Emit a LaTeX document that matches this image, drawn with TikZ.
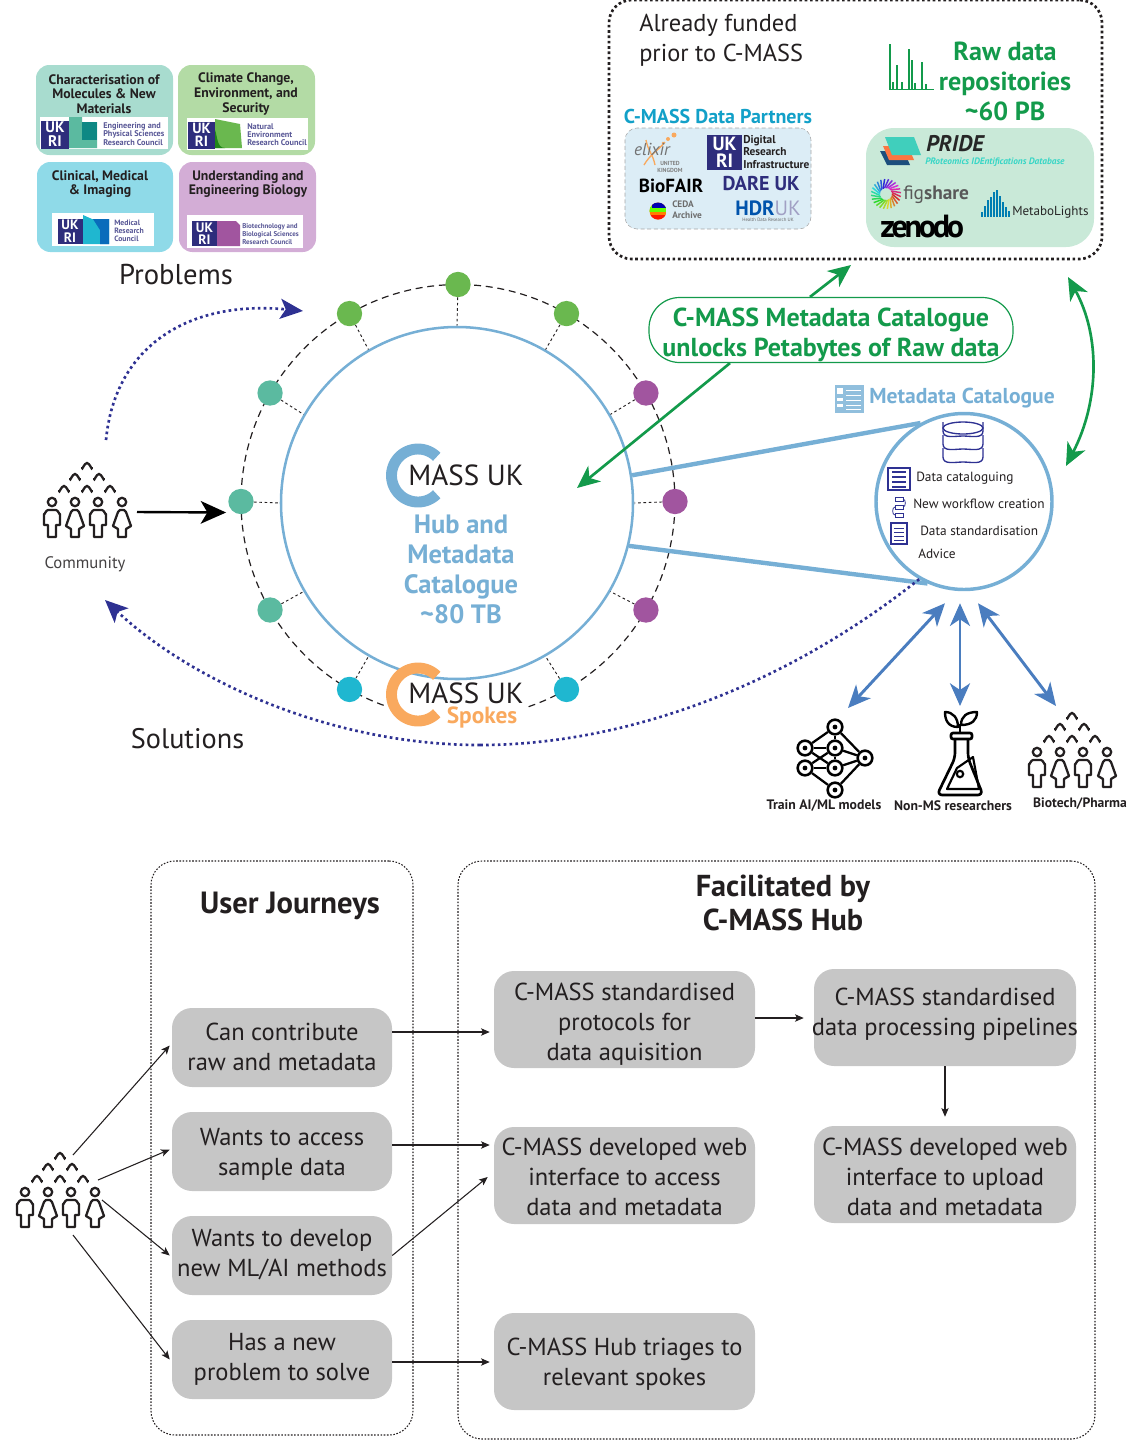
\documentclass[tikz,border=0pt]{standalone}
\usepackage{fontspec}
\setmainfont{PT Sans}
\usetikzlibrary{arrows.meta,calc,shapes.geometric}
\definecolor{ink}{HTML}{231F20}
\definecolor{hubblue}{HTML}{76AFD5}
\definecolor{spokeor}{HTML}{F9A95E}
\definecolor{cgreen}{HTML}{139A4B}
\definecolor{indigo}{HTML}{2E3192}
\definecolor{ukri}{HTML}{2E2D7C}
\definecolor{arrblue}{HTML}{4A7DBF}
\definecolor{pgreen}{HTML}{6AB84F}
\definecolor{ppurple}{HTML}{A1559F}
\definecolor{pcyan}{HTML}{1FB7D0}
\definecolor{pteal}{HTML}{5BBAA0}
\definecolor{pgray}{HTML}{C6C6C6}
\newcommand{\fs}[2]{\fontsize{#1}{#2}\selectfont}
\tikzset{
  x=0.75pt,y=-0.75pt,
  wh/.style 2 args={minimum width=#1*0.75pt,minimum height=#2*0.75pt,inner sep=0pt},
  txt/.style={inner sep=0pt,text=ink,align=center},
  ltxt/.style={inner sep=0pt,text=ink,align=left,anchor=west},
  area/.style={rounded corners=10pt,draw=none},
  coun/.style={ltxt,text=ukri!80!white,font=\bfseries\fs{6.2}{6.1}},
  ukrib/.style={fill=ukri,text=white,inner sep=0pt,align=center,minimum size=21pt,font=\bfseries\fs{11.5}{10.5}},
  graybox/.style={fill=pgray,rounded corners=15pt},
  gtext/.style={inner sep=0pt,text=ink,align=center,font=\fs{18.4}{22.5}},
  thinarr/.style={draw=ink,line width=0.8pt,-{Stealth[length=6.5pt,width=5.5pt,inset=1.5pt]}},
  bigdot/.style={circle,minimum size=19pt,inner sep=0pt},
  blu/.style={draw=arrblue,line width=2.2pt,{Stealth[length=17pt,width=15pt,inset=5pt]}-{Stealth[length=17pt,width=15pt,inset=5pt]}},
  grn/.style={draw=cgreen,line width=2pt,-{Stealth[length=17pt,width=15pt,inset=5pt]}},
  dots/.style={draw=indigo,line width=2pt,dash pattern=on 2pt off 2.4pt,-{Stealth[length=17pt,width=15pt,inset=4pt]}},
  logoC/.style={line width=8.2pt},
  man/.pic={\draw[pic actions,line join=round] (-4,35) -- (-4,23) -- (-8,23) -- (-8,12) to[out=-90,in=180] (-4,8) -- (4,8) to[out=0,in=-90] (8,12) -- (8,23) -- (4,23) -- (4,35) -- cycle;
            \draw[pic actions] (0,0) circle (4.2);},
  woman/.pic={\draw[pic actions,line join=round] (-4,35) -- (-4,27) -- (-9,24) -- (-4,10) to[out=-90,in=180] (-2,8) -- (2,8) to[out=0,in=-90] (4,10) -- (9,24) -- (4,27) -- (4,35) -- cycle;
            \draw[pic actions] (0,0) circle (4.2);},
  peoplegroup/.pic={
    \pic[draw=ink,line width=1.7pt] at (-35,0) {man};
    \pic[draw=ink,line width=1.7pt] at (-12,0) {woman};
    \pic[draw=ink,line width=1.7pt] at (11,0) {man};
    \pic[draw=ink,line width=1.7pt] at (35,0) {woman};
    \foreach \ax/\ay in {0/-36,-12/-25,12/-25,-23/-13,0/-13,23/-13}
      \draw[ink,line width=1.7pt,line cap=round] (\ax-5,\ay+2) to[out=-90,in=180] (\ax,\ay-3) to[out=0,in=-90] (\ax+5,\ay+2);
  }
}
\begin{document}
\begin{tikzpicture}
\useasboundingbox (0,0) rectangle (1128,1440);
% ---------- problem boxes
\node[area,wh={137}{90},fill={rgb,255:red,168;green,220;blue,207}] (pb1) at (104.5,110) {};
\node[area,wh={137}{90},fill={rgb,255:red,179;green,219;blue,165}] (pb2) at (246.5,110) {};
\node[area,wh={136}{90},fill={rgb,255:red,143;green,218;blue,232}] (pb3) at (105,207) {};
\node[area,wh={137}{90},fill={rgb,255:red,211;green,173;blue,214}] (pb4) at (247.5,207) {};
\node[txt,font=\bfseries\fs{10.3}{11}] (pt1) at (104,94) {Characterisation of\\Molecules \& New\\Materials};
\node[txt,font=\bfseries\fs{10.3}{11}] (pt2) at (246,94) {Climate Change,\\Environment, and\\Security};
\node[txt,font=\bfseries\fs{10.3}{11}] (pt3) at (100,184) {Clinical, Medical\\\& Imaging};
\node[txt,font=\bfseries\fs{10.3}{11}] (pt4) at (248,184) {Understanding and\\Engineering Biology};
% council strips
\fill[white] (40,117) rectangle (168,149);
\fill[white] (187,118) rectangle (308,150);
\fill[white] (52,213) rectangle (154,246);
\fill[white] (187,215) rectangle (303,248);
\fill[pteal] (69,117) -- (82,117) -- (82,122) -- (97,122) -- (97,148) -- (69,148) -- cycle;
\fill[teal!85!pteal] (82,122) rectangle (97,140);
\fill[pgreen] (215,119) -- (240,124) -- (242,148) -- (215,148) -- cycle;
\fill[green!45!black!70!pgreen] (215,130) to[out=-70,in=180] (225,148) -- (215,148) -- cycle;
\fill[pcyan] (83,215) -- (92,219) -- (109,219) -- (109,244) -- (83,244) -- cycle;
\fill[teal!60!blue!70!pcyan] (93,219) -- (109,219) -- (109,244) -- (100,244) -- (100,230) -- cycle;
\fill[ppurple] (217,221) -- (236,221) -- (240,225) -- (240,246) -- (217,246) -- cycle;
\node[ukrib,scale=28/28] (uk1) at (55,134.5) {UK\\RI};
\node[ukrib,scale=27/28] (uk2) at (201.5,135) {UK\\RI};
\node[ukrib,scale=25/28] (uk3) at (70,231) {UK\\RI};
\node[ukrib,scale=25/28] (uk4) at (204.5,233.5) {UK\\RI};
\node[coun] (cn1) at (103,134) {Engineering and\\Physical Sciences\\Research Council};
\node[coun] (cn2) at (247,135) {Natural\\Environment\\Research Council};
\node[coun,font=\bfseries\fs{5.8}{6}] (cn3) at (114,231) {Medical\\Research\\Council};
\node[coun,font=\bfseries\fs{5.2}{5.8}] (cn4) at (242,234) {Biotechnology and\\Biological Sciences\\Research Council};
\node[txt,font=\fs{21.5}{24}] (problems) at (176,275) {Problems};
\node[txt,font=\fs{21.2}{24}] (solutions) at (187.5,738.5) {Solutions};
% ---------- top right box
\node[rounded corners=17pt,wh={493}{259},draw=ink,line width=2pt,dash pattern=on 2pt off 2pt] (topbox) at (855.5,129.5) {};
\node[ltxt,font=\fs{18.3}{22.5}] (funded) at (639,40.5) {Already funded\\prior to C-MASS};
\node[txt,font=\bfseries\fs{15}{16},text={rgb,255:red,18;green,160;blue,200}] (dpt) at (718,116) {C-MASS Data Partners};
\node[rounded corners=9pt,wh={186}{101},fill={rgb,255:red,220;green,237;blue,246},draw=gray!70,densely dashed,line width=0.4pt] (dpbox) at (718,178.5) {};
% elixir
\draw[spokeor,line width=1pt] (646,140) to[out=-80,in=100] (655,165);
\draw[spokeor,line width=1pt] (644,165) to[out=60,in=-130] (665,142);
\fill[spokeor] (668,139) circle (2) (674,135) circle (2.5) (663,143) circle (1.3);
\node[txt,font=\itshape\fs{13}{14},text=gray!90!black] (elixir) at (652,149) {elixir};
\node[txt,font=\bfseries\fs{4.4}{5},text=gray] (eluk) at (670,167) {UNITED\\KINGDOM};
\node[ukrib,scale=35/28] (ukdr) at (724.5,152.5) {UK\\RI};
\node[ltxt,font=\bfseries\fs{8.5}{9.7}] (drit) at (743,152) {Digital\\Research\\Infrastructure};
\node[txt,font=\bfseries\fs{14.2}{16},text=black] (biofair) at (671,186) {BioFAIR};
\node[txt,font=\bfseries\fs{15}{16},text=ukri] (dare) at (761,184) {DARE UK};
\begin{scope}
\clip (658,211) circle (8.5);
\fill[orange] (649,202) rectangle (667,220);
\fill[red!80!orange] (649,215) rectangle (667,220);
\fill[green!60!yellow] (649,206) rectangle (667,212);
\fill[blue!70!black] (652,201) rectangle (666,208);
\end{scope}
\node[ltxt,font=\bfseries\fs{7}{8.2},text=gray!85!black] (ceda) at (672,210) {CEDA\\Archive};
\node[txt,font=\bfseries\fs{15.5}{16}] (hdr) at (768,208) {\textcolor{teal!65!blue}{HDR}\textcolor{ukri!45!white}{\mdseries UK}};
\node[txt,font=\fs{3.6}{4},text=gray!80!black] (hdrs) at (768,220) {Health Data Research UK};
% raw data
\foreach \sx/\sy in {890/44,893/82,897/65,902/82,909/49,912/60,915/83,922/62,926/84}
  \draw[cgreen,line width=1.2pt] (\sx,89) -- (\sx,\sy);
\draw[cgreen,line width=1.2pt] (889,89.5) -- (934,89.5);
\node[txt,font=\bfseries\fs{19.6}{22.5},text=cgreen] (raw) at (1005,81) {Raw data\\repositories\\\textasciitilde 60 PB};
\node[rounded corners=21pt,wh={228}{119},fill={rgb,255:red,201;green,233;blue,216}] (rawbox) at (980,187.5) {};
% PRIDE
\fill[ukri!60!teal] (880,151) -- (904,151) -- (910,165) -- (887,165) -- cycle;
\fill[spokeor!70!red] (883,146) -- (908,146) -- (914,160) -- (889,160) -- cycle;
\fill[pteal!70!cyan] (885,137) -- (914,137) -- (921,155) -- (892,155) -- cycle;
\node[ltxt,font=\bfseries\itshape\fs{17}{18},text=gray!30!black] (pride) at (926,144) {PRIDE};
\node[ltxt,font=\bfseries\itshape\fs{7}{8},text=pteal!60!cyan] (prides) at (925,162) {PRoteomics IDEntifications Database};
% figshare
\foreach \i in {0,...,23}{
  \pgfmathtruncatemacro{\hh}{\i*15}
  \definecolor{fgc}{Hsb}{\hh,0.8,0.85}
  \draw[fgc,line width=1.1pt] ({886+6*cos(\i*15)},{194+6*sin(\i*15)}) -- ({886+15*cos(\i*15+25)},{194+15*sin(\i*15+25)});
}
\node[ltxt,font=\fs{14.5}{16},text=gray!70!black] (figshare) at (903,195) {fig\textbf{share}};
\node[ltxt,font=\bfseries\fs{24}{24},text=black] (zenodo) at (880,227) {\addfontfeature{LetterSpace=-10}zenodo};
\foreach \bx/\by in {981/212,984/206,987/200,990/197,993/192,996/190,999/196,1002/202,1005/207,1008/211}
  \fill[blue!30!cyan!70!black] (\bx,217) rectangle (\bx+2,\by);
\node[ltxt,font=\fs{9.8}{11},text=gray!30!black] (metabo) at (1012,212) {MetaboLights};
% ---------- hub ring
\draw[ink,line width=0.9pt,dash pattern=on 5.2pt off 3.6pt] plot[domain=-71:251,samples=160] ({458+217*cos(\x)},{501.5-217*sin(\x)});
\node[circle,wh={352}{352},draw=hubblue,line width=1.9pt,fill=white] (hub) at (457,503) {};
\foreach \n/\a/\c in {1/90/pgreen,2/60/pgreen,3/120/pgreen,4/30/ppurple,5/0/ppurple,6/-30/ppurple,7/-60/pcyan,8/-120/pcyan,9/-150/pteal,10/180/pteal,11/150/pteal}{
  \node[bigdot,fill=\c] (d\n) at ({458+217*cos(\a)},{501.5-217*sin(\a)}) {};
  \draw[ink,line width=0.7pt,dash pattern=on 2pt off 2pt] (d\n) -- (hub.\a);
}
% logos
\draw[hubblue,logoC] plot[domain=45:315,samples=60] ({418+26.5*cos(\x)},{475.5-26.5*sin(\x)});
\node[txt,font=\fs{21.8}{24}] (mass1) at (466,475) {MASS UK};
\node[txt,font=\bfseries\fs{19.9}{22.5},text=hubblue] (hubtxt) at (461,569) {Hub and\\Metadata\\Catalogue\\\textasciitilde 80 TB};
\draw[spokeor,logoC] plot[domain=45:315,samples=60] ({418+26.5*cos(\x)},{694.5-26.5*sin(\x)});
\node[txt,font=\fs{21.8}{24},text height=11pt,text depth=1pt] (mass2) at (466,697) {MASS UK};
\node[inner sep=0pt,font=\bfseries\fs{17.5}{16},text height=9pt,text depth=3pt] (spokes) at (482,719) {\textcolor{spokeor}{Spokes}};
% ---------- community
\pic at (87,502) {peoplegroup};
\node[txt,font=\fs{12.5}{14},text=ink!85] (community) at (85,564) {Community};
\coordinate (cm) at (137,512);
\draw[black,line width=1.8pt,-{Stealth[length=19pt,width=17pt,inset=5pt]}] (cm) -- ($(d10.west)+(-2,11)$);
\coordinate (u0) at (106,440);
\coordinate (u1) at (303,311);
\draw[dots] (u0) .. controls (115,345) and (190,300) .. (u1);
% ---------- pill + green
\node[rounded corners=23pt,wh={364}{65},draw=cgreen,line width=0.9pt,fill=white,label={[inner sep=0pt,align=center,font=\bfseries\fs{19.5}{22.5},text=cgreen,yshift=-3.5pt]center:{C-MASS Metadata Catalogue\\unlocks Petabytes of Raw data}}] (pill) at (831,330) {};
\coordinate (gup) at (851,265);
\coordinate (gdn) at (577,488);
\draw[grn] ($(pill.north)+(-21,0)$) -- (gup);
\draw[grn] ($(pill.south)+(-101,0)$) -- (gdn);
\coordinate (g1) at (1068,277);
\coordinate (g2) at (1066,466);
\draw[draw=cgreen,line width=2pt,{Stealth[length=17pt,width=15pt,inset=5pt]}-{Stealth[length=17pt,width=15pt,inset=5pt]}] (g1) .. controls (1100,335) and (1100,400) .. (g2);
% ---------- metadata catalogue
\node[circle,wh={176}{176},draw=hubblue,line width=2.6pt,fill=white] (meta) at (964,501.5) {};
\draw[hubblue,line width=3.3pt] (hub.9.5) -- (meta.119);
\draw[hubblue,line width=3.3pt] (hub.-14) -- (meta.246);
\fill[hubblue!80!white] (835,385) rectangle (864,413);
\foreach \ly in {390,395,400,405,409} \draw[white,line width=0.5pt] (846,\ly) -- (861,\ly);
\fill[white] (837,388) rectangle (843,394);
\fill[white] (837,398) rectangle (843,401);
\fill[white] (837,404) rectangle (843,407);
\node[ltxt,font=\bfseries\fs{16.2}{18},text=hubblue] (mctitle) at (869,398) {Metadata Catalogue};
% database icon
\foreach \dy in {462,449,436}{
  \draw[indigo,line width=1pt,fill=white] (943,\dy-14) -- (943,\dy-5) to[out=-90,in=180] (963,\dy) to[out=0,in=-90] (983,\dy-5) -- (983,\dy-14);
}
\draw[indigo,line width=1pt,fill=white] (963,428) ellipse (20 and 6);
% small icons
\draw[indigo,line width=0.8pt] (888,468) rectangle (910,490);
\foreach \ly in {472,477,482,487}{\draw[indigo,line width=0.8pt] (892,\ly) -- (906,\ly);}
\foreach \wx/\wy in {895/497,895/505,895/513}{\draw[indigo,line width=0.6pt] (\wx,\wy) rectangle (\wx+8,\wy+4);}
\draw[indigo,line width=0.6pt] (903,499) to[out=0,in=0] (903,507);
\draw[indigo,line width=0.6pt] (895,507) to[out=180,in=180] (895,515);
\draw[indigo,line width=0.8pt] (891,523) rectangle (907,544);
\foreach \ly in {528,532,536,540}{\draw[indigo,line width=0.6pt] (894,\ly) -- (904,\ly);}
\node[ltxt,font=\fs{10}{12}] (mm1) at (916,478) {Data cataloguing};
\node[ltxt,font=\fs{10}{12}] (mm2) at (913,504) {New workflow creation};
\node[ltxt,font=\fs{10}{12}] (mm3) at (920,531) {Data standardisation};
\node[ltxt,font=\fs{10}{12}] (mm4) at (918,554) {Advice};
% solutions curve
\coordinate (s1) at (480,745);
\coordinate (s2) at (105,600);
\draw[draw=indigo,line width=2pt,dash pattern=on 2pt off 2.4pt] (meta.240) .. controls (780,690) and (620,745) .. (s1);
\draw[dots] (s1) .. controls (330,745) and (190,680) .. (s2);
% network icon
\foreach \n/\px/\py in {n1/835/727,n2/805/748,n3/835/748,n4/865/758,n5/805/768,n6/835/768,n7/835/790}
  \node[circle,minimum size=11pt,inner sep=0pt,draw=black,line width=1.9pt,fill=white] (\n) at (\px,\py) {};
\foreach \p/\q in {n1/n2,n1/n3,n1/n4,n2/n3,n2/n6,n5/n3,n5/n6,n3/n4,n6/n4,n5/n7,n7/n4,n3/n6}
  \draw[black,line width=1.7pt] (\p) -- (\q);
\foreach \n in {n1,n2,n3,n4,n5,n6,n7} \fill[black] (\n) circle (2.4);
% flask
\draw[black,line width=2pt,line join=round,rounded corners=4pt] (955,739) -- (955,758) -- (937,795) -- (983,795) -- (968,758) -- (968,739);
\draw[black,line width=2pt,rounded corners=1.5pt] (951,733) rectangle (972,739);
\draw[black,line width=1.6pt,line join=round] (947,789) -- (957,768) -- (973,757) -- (979,789) -- cycle;
\draw[black,line width=1.6pt] (960,774) circle (3.2);
\draw[black,line width=2pt] (960,733) -- (960,724);
\draw[black,line width=1.8pt,line join=round] (958,727) .. controls (948,727) and (945,720) .. (945,712) .. controls (953,712) and (958,718) .. cycle;
\draw[black,line width=1.8pt,line join=round] (961,725) .. controls (972,725) and (977,720) .. (977,712) .. controls (967,712) and (961,716) .. cycle;
\node[txt,font=\bfseries\fs{10.3}{11}] (lab1) at (824,806) {Train AI/ML models};
\node[txt,font=\bfseries\fs{10.3}{11}] (lab2) at (953,806) {Non-MS researchers};
\node[txt,font=\bfseries\fs{10.2}{11}] (lab3) at (1080,804) {Biotech/Pharma};
\pic at (1072,752) {peoplegroup};
\coordinate (bl1) at (848,708);
\coordinate (bl2) at (960,706);
\coordinate (bl3) at (1056,706);
\draw[blu] (bl1) -- ($(meta.south)+(-19,12)$);
\draw[blu] (bl2) -- ($(meta.south)+(-4,12)$);
\draw[blu] (bl3) -- ($(meta.south)+(14,12)$);
% ---------- lower part
\node[rounded corners=18pt,wh={262}{574},draw=ink,line width=0.8pt,dash pattern=on 1.2pt off 1.2pt] (ujbox) at (282,1148) {};
\node[rounded corners=18pt,wh={637}{578},draw=ink,line width=0.8pt,dash pattern=on 1.2pt off 1.2pt] (fcbox) at (776.5,1150) {};
\node[txt,font=\bfseries\fs{23}{26}] (ujt) at (290,906) {User Journeys};
\node[txt,font=\bfseries\fs{22.7}{26}] (fct) at (783,903) {Facilitated by\\C-MASS Hub};
\node[graybox,wh={220}{79},label={[gtext,yshift=0.75pt]center:{Can contribute\\raw and metadata}}] (u1b) at (282,1047.5) {};
\node[graybox,wh={220}{79},label={[gtext,yshift=-2.25pt]center:{Wants to access\\sample data}}] (u2b) at (282,1151.5) {};
\node[graybox,wh={220}{79},label={[gtext,yshift=0.75pt]center:{Wants to develop\\new ML/AI methods}}] (u3b) at (282,1255.5) {};
\node[graybox,wh={220}{79},label={[gtext]center:{Has a new\\problem to solve}}] (u4b) at (282,1359.5) {};
\node[graybox,wh={261}{97},label={[gtext,yshift=-3.75pt]center:{C-MASS standardised\\protocols for\\data aquisition}}] (f1b) at (624.5,1019.5) {};
\node[graybox,wh={262}{97},label={[gtext,yshift=2.25pt]center:{C-MASS standardised\\data processing pipelines}}] (f2b) at (945,1017.5) {};
\node[graybox,wh={261}{97},label={[gtext,yshift=-1pt]center:{C-MASS developed web\\interface to access\\data and metadata}}] (f3b) at (624.5,1175.5) {};
\node[graybox,wh={262}{97},label={[gtext,yshift=-1.5pt]center:{C-MASS developed web\\interface to upload\\data and metadata}}] (f4b) at (945,1174.5) {};
\node[graybox,wh={261}{97},label={[gtext,yshift=-2.25pt]center:{C-MASS Hub triages to\\relevant spokes}}] (f5b) at (624.5,1361.5) {};
\draw[thinarr] ($(u1b.east)+(0,-15.5)$) -- ($(f1b.west)+(-4,12.5)$);
\draw[thinarr] ($(u2b.east)+(0,-6.5)$) -- ($(f3b.west)+(-4,-30.5)$);
\draw[thinarr] ($(u3b.east)+(0,0)$) -- ($(f3b.west)+(-6,1.5)$);
\draw[thinarr] ($(u4b.east)+(0,2.5)$) -- ($(f5b.west)+(-4,0.5)$);
\draw[thinarr] ($(f1b.east)+(0,-1.5)$) -- ($(f2b.west)+(-10,0.5)$);
\draw[thinarr] (f2b.south) -- ($(f4b.north)+(0,-9)$);
\pic at (60,1192) {peoplegroup};
\coordinate (p1) at (73,1155);
\coordinate (p2) at (98,1180);
\coordinate (p3) at (102,1200);
\coordinate (p4) at (73,1235);
\draw[thinarr] (p1) -- ($(u1b.west)+(-2,-2)$);
\draw[thinarr] (p2) -- ($(u2b.west)+(-2,-2)$);
\draw[thinarr] (p3) -- ($(u3b.west)+(-2,0)$);
\draw[thinarr] (p4) -- ($(u4b.west)+(-2,0)$);
\end{tikzpicture}
\end{document}
